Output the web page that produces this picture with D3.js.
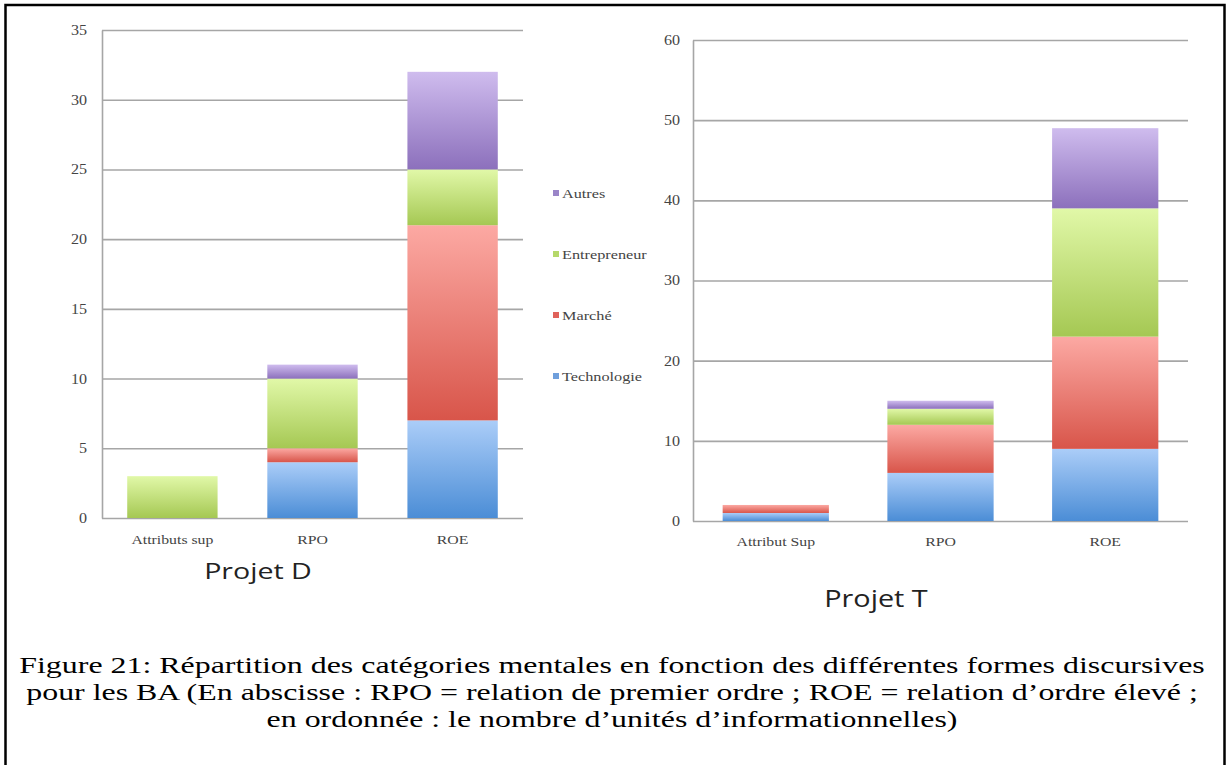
<!DOCTYPE html>
<html>
<head>
<meta charset="utf-8">
<script src="https://cdn.jsdelivr.net/npm/d3@7"></script>
<style>
  body { margin: 0; background: #fff; }
  svg { display: block; }
</style>
</head>
<body>
<div id="chart"></div>
<script>
// data
var categories = ["Technologie", "Marché", "Entrepreneur", "Autres"];

var groupsD = ["Attributs sup", "RPO", "ROE"];
var technologieD = [0, 4, 7];
var marcheD = [0, 1, 14];
var entrepreneurD = [3, 5, 4];
var autresD = [0, 1, 7];
var ticksD = [0, 5, 10, 15, 20, 25, 30, 35];

var groupsT = ["Attribut Sup", "RPO", "ROE"];
var technologieT = [1, 6, 9];
var marcheT = [1, 6, 14];
var entrepreneurT = [0, 2, 16];
var autresT = [0, 1, 10];
var ticksT = [0, 10, 20, 30, 40, 50, 60];

var caption = [
  "Figure 21: Répartition des catégories mentales en fonction des différentes formes discursives",
  "pour les BA (En abscisse : RPO = relation de premier ordre ; ROE = relation d’ordre élevé ;",
  "en ordonnée : le nombre d’unités d’informationnelles)"
];

var gradColors = {
  "Technologie": ["#abcdf8", "#4b8dd6"],
  "Marché": ["#fca9a3", "#d8554a"],
  "Entrepreneur": ["#e1f8a8", "#a5c853"],
  "Autres": ["#cfbcee", "#8c70bc"]
};
var legendColors = {
  "Technologie": "#6f9fdc", "Marché": "#e0625a",
  "Entrepreneur": "#b5d86a", "Autres": "#9a85c8"
};

// the source picture is a bit wider than tall, so texts get stretched sideways
function stretch(sel, s) {
  sel.each(function() {
    var t = d3.select(this);
    var x = +t.attr("x") || 0, y = +t.attr("y") || 0;
    t.attr("x", 0).attr("y", 0)
     .attr("transform", "translate(" + x + "," + y + ") scale(" + s + ",1)");
  });
}

var svg = d3.select("#chart").append("svg")
    .attr("width", 1227)
    .attr("height", 765);

// frame
svg.append("rect")
    .attr("x", 5.5).attr("y", 5)
    .attr("width", 1219).attr("height", 800)
    .attr("fill", "none")
    .attr("stroke", "#000")
    .attr("stroke-width", 2.5);

var defs = svg.append("defs");
categories.forEach(function(c, i) {
  var g = defs.append("linearGradient")
      .attr("id", "grad" + i)
      .attr("x1", 0).attr("y1", 0).attr("x2", 0).attr("y2", 1);
  g.append("stop").attr("offset", "0%").attr("stop-color", gradColors[c][0]);
  g.append("stop").attr("offset", "100%").attr("stop-color", gradColors[c][1]);
});

function toRows(groups, series) {
  return groups.map(function(g, i) {
    var row = {group: g};
    categories.forEach(function(c, j) { row[c] = series[j][i]; });
    return row;
  });
}

function drawChart(opt) {
  var rows = toRows(opt.groups, opt.series);

  var x = d3.scaleBand()
      .domain(opt.groups)
      .range([opt.x0, opt.x1])
      .paddingInner(0.355)
      .paddingOuter(0.18);

  var y = d3.scaleLinear()
      .domain([0, d3.max(opt.ticks)])
      .range([opt.y0, opt.y1]);

  var g = svg.append("g");

  // y axis with gridlines
  var yAxis = g.append("g")
      .attr("transform", "translate(" + opt.x0 + ",0)")
      .call(d3.axisLeft(y)
          .tickValues(opt.ticks)
          .tickSizeInner(-(opt.x1 - opt.x0))
          .tickSizeOuter(0)
          .tickPadding(opt.yPad));
  yAxis.select(".domain").attr("stroke", "#a6a6a6").attr("stroke-width", 1.6);
  yAxis.selectAll(".tick line").attr("stroke", "#a6a6a6").attr("stroke-width", 1.6);
  yAxis.selectAll(".tick text")
      .attr("fill", "#444")
      .style("font-family", "'Liberation Serif', serif")
      .style("font-size", "14px")
      .call(stretch, 1.15);

  // stacked bars
  var stacked = d3.stack().keys(categories)(rows);
  g.append("g").selectAll("g")
      .data(stacked)
      .enter().append("g")
      .attr("fill", function(d, i) { return "url(#grad" + i + ")"; })
      .selectAll("rect")
      .data(function(d) { return d; })
      .enter().append("rect")
      .filter(function(d) { return d[1] > d[0]; })
      .attr("x", function(d) { return x(d.data.group); })
      .attr("y", function(d) { return y(d[1]); })
      .attr("width", x.bandwidth())
      .attr("height", function(d) { return y(d[0]) - y(d[1]); });

  // x labels
  var xAxis = g.append("g")
      .attr("transform", "translate(0," + opt.y0 + ")")
      .call(d3.axisBottom(x).tickSize(0).tickPadding(opt.xPad));
  xAxis.select(".domain").remove();
  xAxis.selectAll(".tick text")
      .attr("fill", "#444")
      .style("font-family", "'Liberation Serif', serif")
      .style("font-size", "13.5px")
      .call(stretch, opt.xStretch);

  // project title
  g.append("text")
      .attr("x", opt.titleX)
      .attr("y", opt.titleY)
      .attr("text-anchor", "middle")
      .style("font-family", "'Open Sans', sans-serif")
      .style("font-size", opt.titleSize + "px")
      .attr("fill", "#222")
      .text(opt.title)
      .call(stretch, opt.titleStretch);
}

drawChart({
  groups: groupsD,
  series: [technologieD, marcheD, entrepreneurD, autresD],
  ticks: ticksD,
  x0: 102, x1: 523, y0: 518, y1: 30,
  xPad: 16, yPad: 15, xStretch: 1.17,
  title: "Projet D", titleX: 258, titleY: 579, titleSize: 22, titleStretch: 1.3
});

drawChart({
  groups: groupsT,
  series: [technologieT, marcheT, entrepreneurT, autresT],
  ticks: ticksT,
  x0: 693, x1: 1188, y0: 521, y1: 40,
  xPad: 15, yPad: 13, xStretch: 1.17,
  title: "Projet T", titleX: 876, titleY: 607, titleSize: 24, titleStretch: 1.2
});

// legend of the left chart (top to bottom: Autres ... Technologie)
var legend = svg.append("g")
    .selectAll("g")
    .data(categories.slice().reverse())
    .enter().append("g")
    .attr("transform", function(d, i) { return "translate(553," + (198 + i * 61) + ")"; });

legend.append("rect")
    .attr("x", 0).attr("y", -8)
    .attr("width", 6).attr("height", 6)
    .attr("fill", function(d) { return legendColors[d]; });

legend.append("text")
    .attr("x", 9)
    .attr("y", 0)
    .attr("fill", "#444")
    .style("font-family", "'Liberation Serif', serif")
    .style("font-size", "13px")
    .text(function(d) { return d; })
    .call(stretch, 1.25);

// caption
svg.append("g").selectAll("text")
    .data(caption)
    .enter().append("text")
    .attr("x", 612)
    .attr("y", function(d, i) { return 673 + i * 27; })
    .attr("text-anchor", "middle")
    .attr("fill", "#000")
    .style("font-family", "'Liberation Serif', serif")
    .style("font-size", "24px")
    .text(function(d) { return d; })
    .call(stretch, 1.33);
</script>
</body>
</html>
